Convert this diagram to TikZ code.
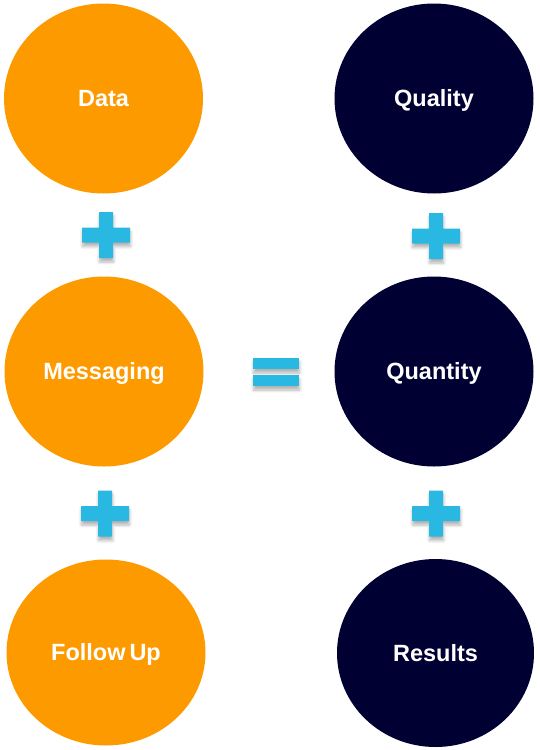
\documentclass[tikz,border=0pt]{standalone}
\usepackage{fontspec}
\setmainfont{Liberation Sans}
\usetikzlibrary{shapes.geometric,shadows.blur}
\definecolor{orangec}{RGB}{253,154,0}
\definecolor{navyc}{RGB}{0,0,51}
\definecolor{cyanc}{RGB}{41,184,226}
\tikzset{
  blob/.style={ellipse, inner sep=0pt, minimum width=199pt, minimum height=190pt,
    text=white, font=\fontsize{23.5}{27}\selectfont\bfseries, text height=16.8pt, text depth=0pt},
  orangeblob/.style={blob, fill=orangec},
  navyblob/.style={blob, fill=navyc},
  sgnshadow/.style={blur shadow={shadow xshift=0.5pt, shadow yshift=-4pt, shadow blur steps=6, shadow blur radius=3pt, shadow opacity=30}},
  plussign/.pic={
    \fill[cyanc, sgnshadow] (-24,-7.5) -- (-7,-7.5) -- (-7,-23) -- (7,-23) -- (7,-7.5) -- (24,-7.5)
      -- (24,7.5) -- (7,7.5) -- (7,23) -- (-7,23) -- (-7,7.5) -- (-24,7.5) -- cycle;
  }
}
\begin{document}
\begin{tikzpicture}[x=1pt,y=-1pt]
\useasboundingbox (0,0) rectangle (539,750);
\node[orangeblob] (data) at (103.5,98.5) {Data};
\node[orangeblob] (messaging) at (104,371.5) {Messaging};
\node[orangeblob, minimum height=186pt] (followup) at (106,652.5) {Follow\,Up};
\node[navyblob] (quality) at (434,98.5) {Quality};
\node[navyblob] (quantity) at (434,371.5) {Quantity};
\node[navyblob, minimum height=188pt, minimum width=197pt] (results) at (435.5,653) {Results};
\pic at (106,235) {plussign};
\pic at (105,513.5) {plussign};
\pic at (436,236) {plussign};
\pic at (436,513.5) {plussign};
\fill[cyanc, sgnshadow] (253,358) rectangle (299,369);
\fill[cyanc, sgnshadow] (253,375) rectangle (299,386);
\end{tikzpicture}
\end{document}
